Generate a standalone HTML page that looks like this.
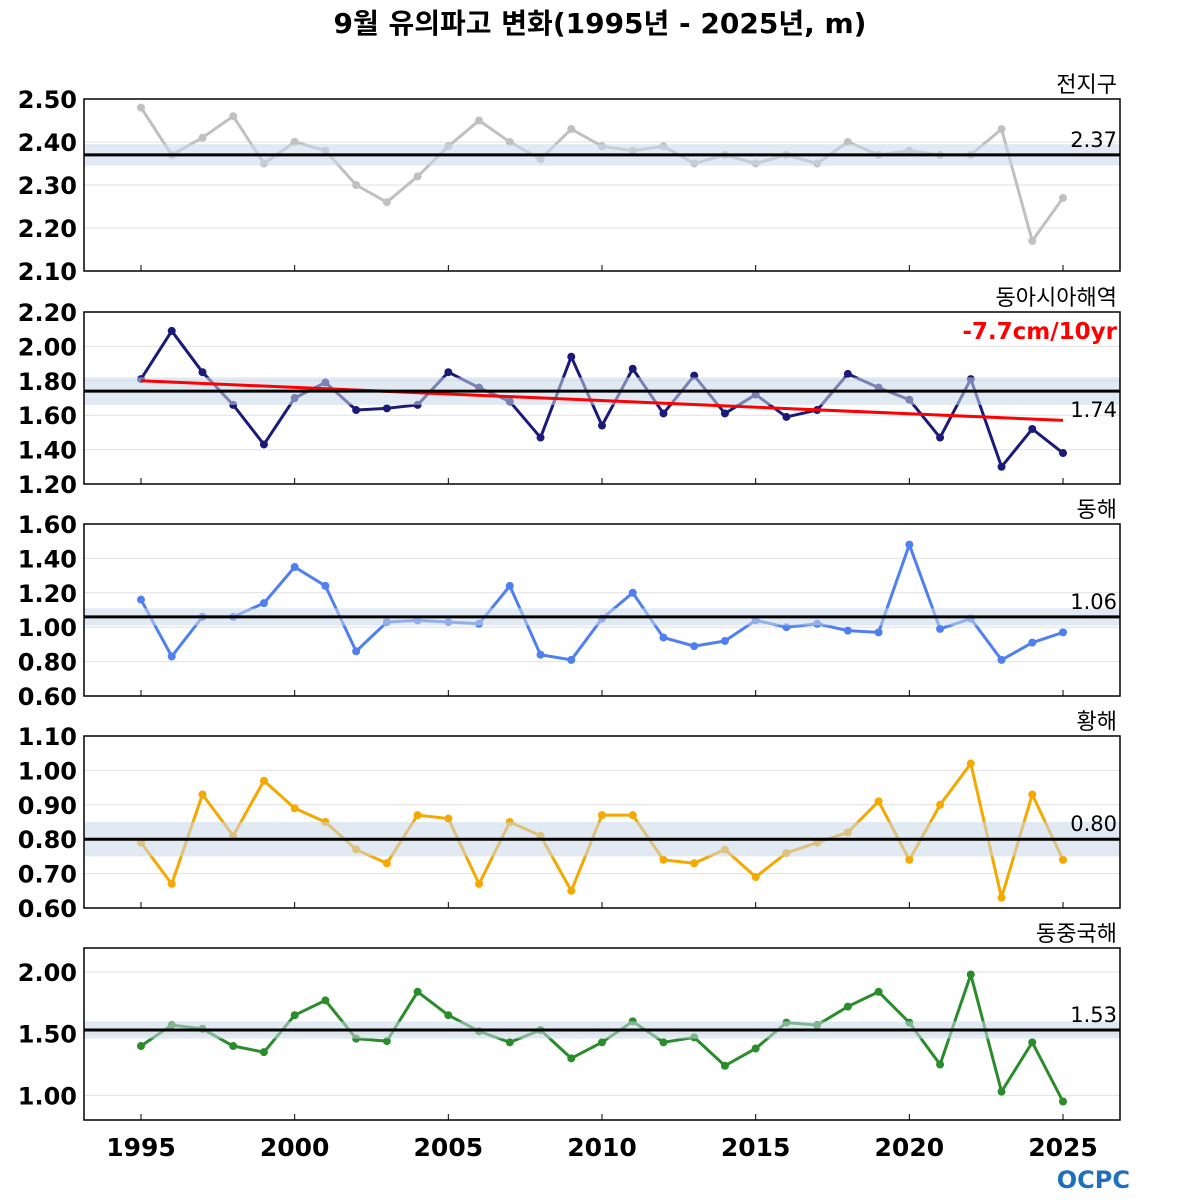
<!DOCTYPE html>
<html><head><meta charset="utf-8"><style>
html,body{margin:0;padding:0;background:#fff;}
svg{display:block;font-family:"DejaVu Sans","Noto Sans CJK KR",sans-serif;}
</style></head><body>
<svg id="chart" width="1200" height="1200" viewBox="0 0 1200 1200">
<text x="600" y="33" text-anchor="middle" font-size="28" font-weight="bold">9월 유의파고 변화(1995년 - 2025년, m)</text>
<g id="panels"></g>
<g id="xaxis"></g>
<text x="1130" y="1188" text-anchor="end" font-size="24" font-weight="bold" fill="#1f6fc0">OCPC</text>
</svg>
<script>
const years = [];
for (let y = 1995; y <= 2025; y++) years.push(y);
const xTicks = [1995, 2000, 2005, 2010, 2015, 2020, 2025];
const globalVals = [2.48,2.37,2.41,2.46,2.35,2.40,2.38,2.30,2.26,2.32,2.39,2.45,2.40,2.36,2.43,2.39,2.38,2.39,2.35,2.37,2.35,2.37,2.35,2.40,2.37,2.38,2.37,2.37,2.43,2.17,2.27];
const eastAsiaVals = [1.81,2.09,1.85,1.66,1.43,1.70,1.79,1.63,1.64,1.66,1.85,1.76,1.68,1.47,1.94,1.54,1.87,1.61,1.83,1.61,1.72,1.59,1.63,1.84,1.76,1.69,1.47,1.81,1.30,1.52,1.38];
const eastSeaVals = [1.16,0.83,1.06,1.06,1.14,1.35,1.24,0.86,1.03,1.04,1.03,1.02,1.24,0.84,0.81,1.05,1.20,0.94,0.89,0.92,1.04,1.00,1.02,0.98,0.97,1.48,0.99,1.05,0.81,0.91,0.97];
const yellowSeaVals = [0.79,0.67,0.93,0.81,0.97,0.89,0.85,0.77,0.73,0.87,0.86,0.67,0.85,0.81,0.65,0.87,0.87,0.74,0.73,0.77,0.69,0.76,0.79,0.82,0.91,0.74,0.90,1.02,0.63,0.93,0.74];
const ecsVals = [1.40,1.57,1.54,1.40,1.35,1.65,1.77,1.46,1.44,1.84,1.65,1.52,1.43,1.53,1.30,1.43,1.60,1.43,1.47,1.24,1.38,1.59,1.57,1.72,1.84,1.59,1.25,1.98,1.03,1.43,0.95];
const means = [2.37, 1.74, 1.06, 0.80, 1.53];
const bandHalf = [0.025, 0.08, 0.05, 0.05, 0.07];
const trendEnds = [1.80, 1.57];
const tickLists = [[2.10,2.20,2.30,2.40,2.50],[1.20,1.40,1.60,1.80,2.00,2.20],[0.60,0.80,1.00,1.20,1.40,1.60],[0.60,0.70,0.80,0.90,1.00,1.10],[1.00,1.50,2.00]];
const panelNames = ['전지구','동아시아해역','동해','황해','동중국해'];

const NS = 'http://www.w3.org/2000/svg';
const X0 = 84, X1 = 1120;
const x = yr => 141 + (yr - 1995) * (1063 - 141) / 30;
function mk(tag, attrs, parent) { const e = document.createElementNS(NS, tag); for (const k in attrs) e.setAttribute(k, attrs[k]); parent.appendChild(e); return e; }

const panels = [
  {vals: globalVals, top: 99, dom: [2.10, 2.50], color: '#c0c0c0', name: 'global'},
  {vals: eastAsiaVals, top: 312, dom: [1.20, 2.20], color: '#1c1a78', name: 'east-asia'},
  {vals: eastSeaVals, top: 524, dom: [0.60, 1.60], color: '#4f7ff0', name: 'east-sea'},
  {vals: yellowSeaVals, top: 736, dom: [0.60, 1.10], color: '#f5a800', name: 'yellow-sea'},
  {vals: ecsVals, top: 948, dom: [0.80, 2.195], color: '#2a8c2a', name: 'east-china-sea'}
];
const H = 172;
const root = document.getElementById('panels');
panels.forEach((p, i) => {
  const g = mk('g', {}, root);
  
  
  const y = v => p.top + H - (v - p.dom[0]) / (p.dom[1] - p.dom[0]) * H;
  tickLists[i].forEach(t => {
    const gl = mk('line', {x1: X0, x2: X1, y1: y(t), y2: y(t), stroke: '#e0e0e0', 'stroke-width': 1}, g);
    
    
    const tl = mk('text', {x: 77, y: y(t) + 9, 'text-anchor': 'end', 'font-size': 24, 'font-weight': 'bold'}, g);
    tl.textContent = t.toFixed(2);
    
    
  });
  xTicks.forEach(t => {
    const tk = mk('line', {x1: x(t), x2: x(t), y1: p.top + H, y2: p.top + H - 6, stroke: '#000', 'stroke-width': 1}, g);
    
    
  });
  const pts = p.vals.map((v, j) => x(years[j]) + ',' + y(v)).join(' ');
  const line = mk('polyline', {points: pts, fill: 'none', stroke: p.color, 'stroke-width': 3, 'stroke-linejoin': 'round'}, g);
  
  
  p.vals.forEach((v, j) => {
    const c = mk('circle', {cx: x(years[j]), cy: y(v), r: 4, fill: p.color}, g);
    
    
  });
  const band = mk('rect', {x: X0, width: X1 - X0, y: y(means[i] + bandHalf[i]), height: y(means[i] - bandHalf[i]) - y(means[i] + bandHalf[i]), fill: '#c8d8e8', 'fill-opacity': 0.55}, g);
  
  
  if (i === 1) {
    const tr = mk('line', {x1: x(1995), x2: x(2025), y1: y(trendEnds[0]), y2: y(trendEnds[1]), stroke: '#ff0000', 'stroke-width': 3}, g);
    
    
    const tt = mk('text', {x: 1117, y: p.top + 27, 'text-anchor': 'end', 'font-size': 23, 'font-weight': 'bold', fill: '#ff0000'}, g);
    tt.textContent = '-7.7cm/10yr';
    
    
  }
  const ml = mk('line', {x1: X0, x2: X1, y1: y(means[i]), y2: y(means[i]), stroke: '#000', 'stroke-width': 3}, g);
  
  
  const mt = mk('text', {x: 1117, y: i === 1 ? y(means[i]) + 26 : y(means[i]) - 8, 'text-anchor': 'end', 'font-size': 21}, g);
  mt.textContent = means[i].toFixed(2);
  
  
  const fr = mk('rect', {x: X0, y: p.top, width: X1 - X0, height: H, fill: 'none', stroke: '#000', 'stroke-width': 1.5}, g);
  
  
  const pt = mk('text', {x: 1117, y: p.top - 7, 'text-anchor': 'end', 'font-size': 22}, g);
  pt.textContent = panelNames[i];
  
  
});
const xa = document.getElementById('xaxis');
xTicks.forEach(t => {
  const tl = mk('text', {x: x(t), y: 1156, 'text-anchor': 'middle', 'font-size': 25, 'font-weight': 'bold'}, xa);
  tl.textContent = t;
  
  
});
</script>
</body></html>
